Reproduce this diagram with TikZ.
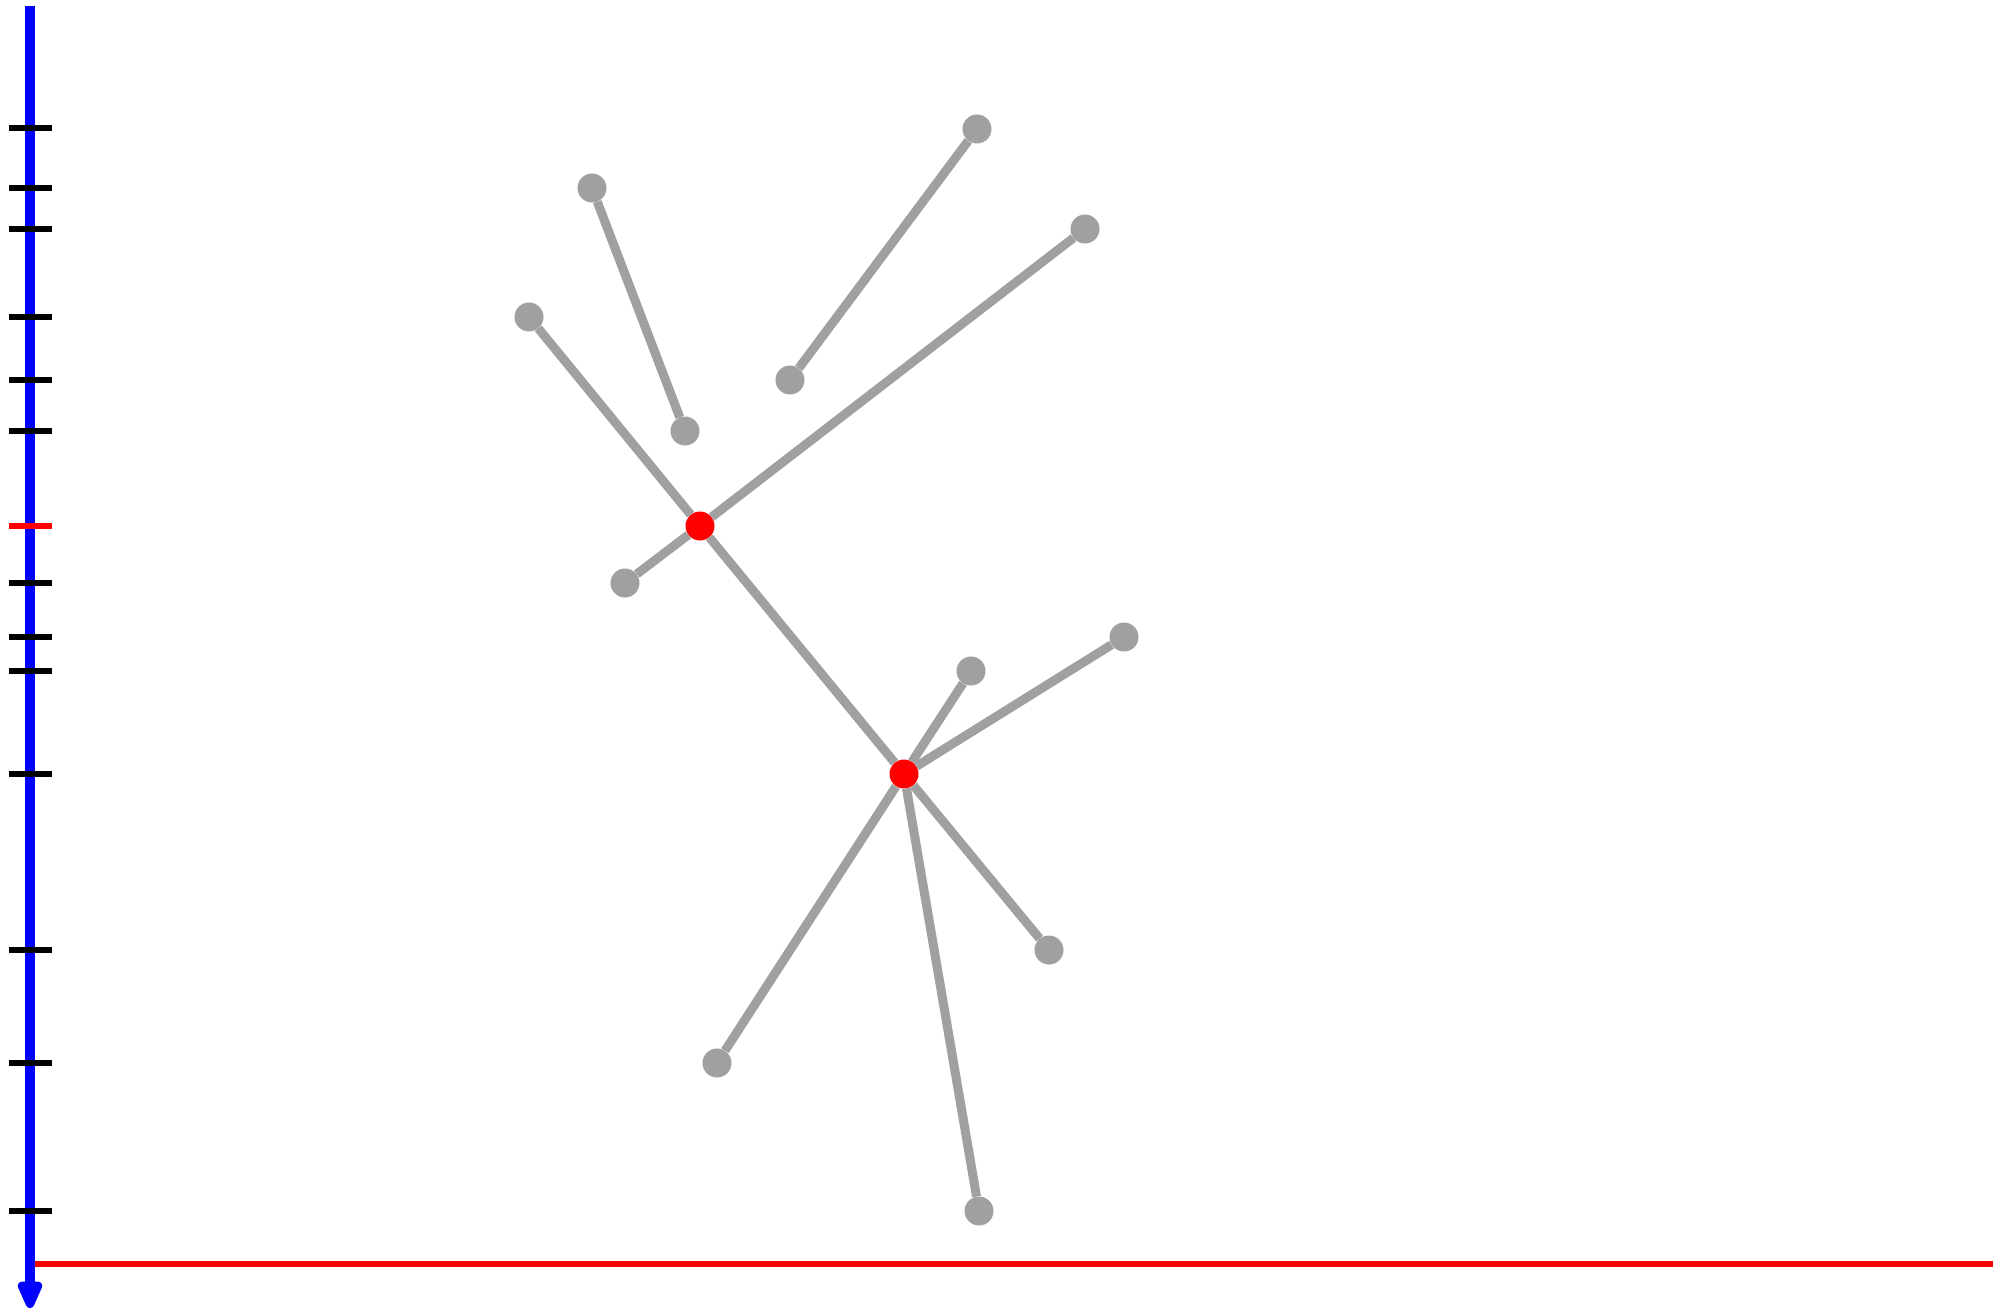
\documentclass[tikz,border=0pt]{standalone}
\usepackage{tikz}
\usetikzlibrary{arrows.meta}
\definecolor{treegray}{RGB}{160,160,160}
\definecolor{axisblue}{RGB}{0,0,255}
\definecolor{cutred}{RGB}{255,0,0}

\begin{document}
\begin{tikzpicture}[x=1pt, y=-1pt,
    leaf/.style={circle, fill=treegray, inner sep=0pt, minimum size=29pt},
    hub/.style={circle, fill=cutred, inner sep=0pt, minimum size=29pt},
    branch/.style={draw=treegray, line width=9pt}]
        \useasboundingbox (0,0) rectangle (2013,1311);

        % depth axis
        \coordinate (top) at (30,6);
        \coordinate (bottom) at (30,1308);
        \draw[axisblue, line width=10pt, -{Triangle[length=34pt, width=26pt, round]}] (top) -- (bottom);
        \foreach \y in {128,188,229,317,380,431,583,637,671,774,950,1063,1211}
            \draw[black, line width=6pt] (9,\y) -- (52,\y);
        \draw[cutred, line width=6pt] (9,526) -- (52,526);

        % cut line
        \coordinate (cutl) at (35,1264);
        \coordinate (cutr) at (1993,1264);
        \draw[cutred, line width=6pt] (cutl) -- (cutr);

        % points
        \node[hub] (a) at (700,526) {};
        \node[hub] (b) at (904,774) {};
        \node[leaf] (p1) at (977,129) {};
        \node[leaf] (p2) at (592,188) {};
        \node[leaf] (p3) at (1085,229) {};
        \node[leaf] (p4) at (529,317) {};
        \node[leaf] (p5) at (790,380) {};
        \node[leaf] (p6) at (685,431) {};
        \node[leaf] (p7) at (625,583) {};
        \node[leaf] (p8) at (1124,637) {};
        \node[leaf] (p9) at (971,671) {};
        \node[leaf] (p10) at (1049,950) {};
        \node[leaf] (p11) at (717,1063) {};
        \node[leaf] (p12) at (979,1211) {};

        % links
        \draw[branch] (p1) -- (p5);
        \draw[branch] (p2) -- (p6);
        \draw[branch] (a) -- (p3);
        \draw[branch] (a) -- (p4);
        \draw[branch] (a) -- (p7);
        \draw[branch] (a) -- (b);
        \draw[branch] (b) -- (p8);
        \draw[branch] (b) -- (p9);
        \draw[branch] (b) -- (p10);
        \draw[branch] (b) -- (p11);
        \draw[branch] (b) -- (p12);
\end{tikzpicture}
\end{document}
